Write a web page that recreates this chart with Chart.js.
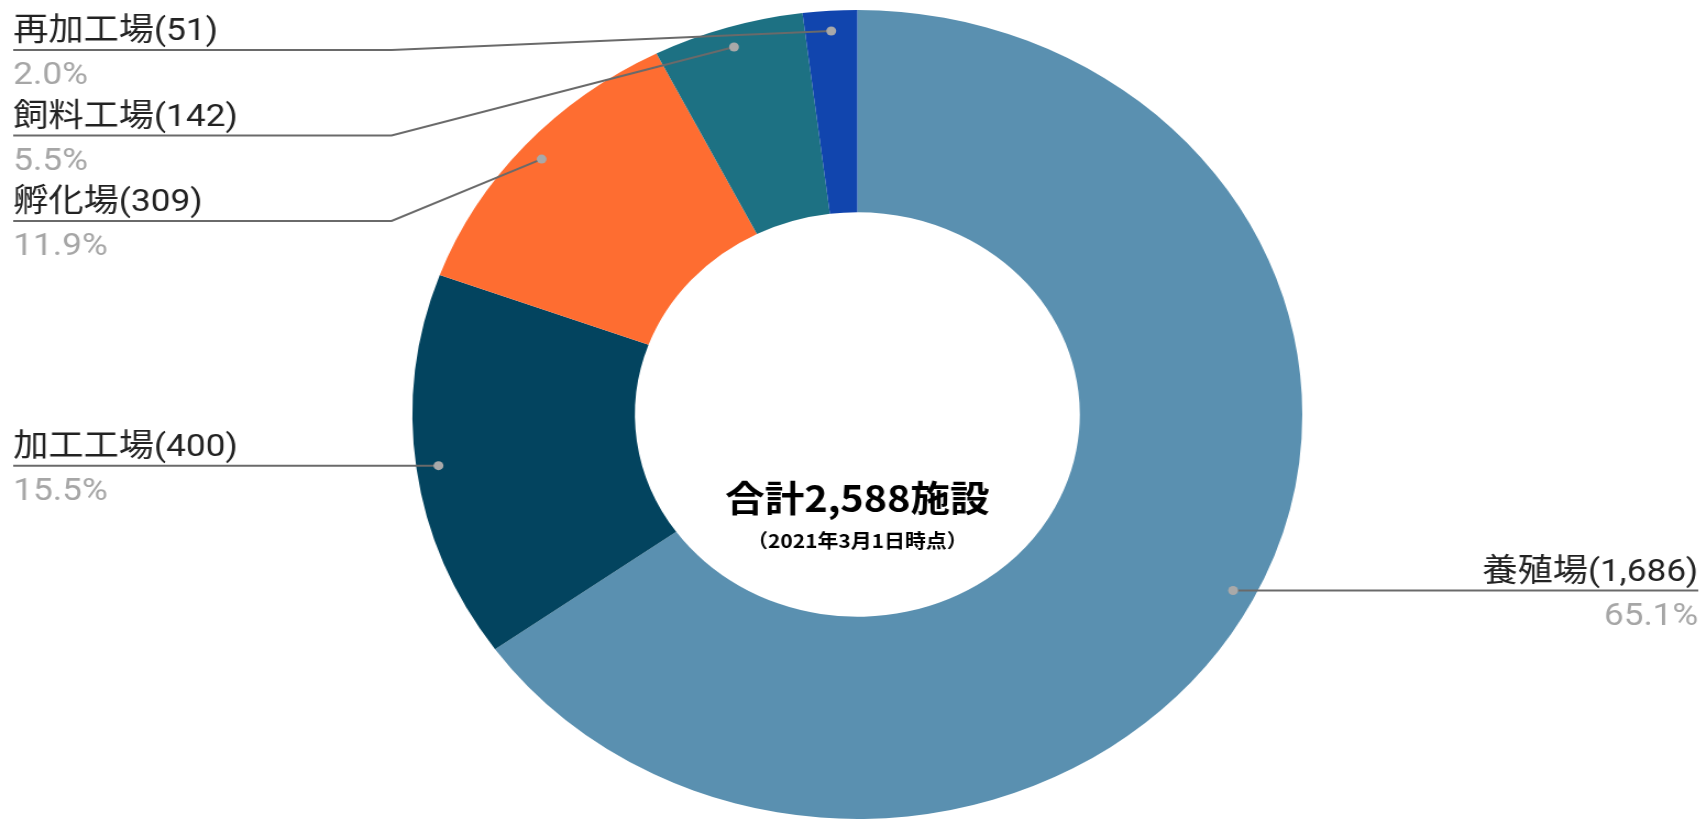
<!DOCTYPE html>
<html lang="ja">
<head>
<meta charset="utf-8">
<title>施設数の内訳</title>
<script src="https://cdn.jsdelivr.net/npm/chart.js@4.4.1/dist/chart.umd.min.js"></script>
<style>
    html, body { margin: 0; padding: 0; background: #fff; overflow: hidden; }
    /* chart is laid out at 1552px and widened to fill the 1707px window */
    #wrap { position: absolute; left: 0; top: 0; width: 1552px; height: 822px; transform: scaleX(1.0999); transform-origin: 0 0; }
</style>
</head>
<body>
<div id="wrap"><canvas id="facility-chart"></canvas></div>
<script>
const categories = ['養殖場', '加工工場', '孵化場', '飼料工場', '再加工場'];
const facilityCounts = [1686, 400, 309, 142, 51];
const asOfNote = '（2021年3月1日時点）';

const sliceColors = ['#5a90b0', '#03445f', '#fe6d31', '#1d7183', '#1145ae'];
const labelFont = "32px Roboto, 'Noto Sans CJK JP', sans-serif";

const total = facilityCounts.reduce((s, v) => s + v, 0);

// leader lines + side labels, google-sheets style
const sliceLabels = {
    id: 'sliceLabels',
    afterDatasetsDraw(chart) {
        const ctx = chart.ctx;
        const arcs = chart.getDatasetMeta(0).data;
        const items = arcs.map((arc, i) => {
            const mid = (arc.startAngle + arc.endAngle) / 2;
            const r = arc.outerRadius * 0.95;
            return {
                i,
                dotX: arc.x + Math.cos(mid) * r,
                dotY: arc.y + Math.sin(mid) * r,
                left: Math.cos(mid) < 0
            };
        });

        const rowGap = 85.5;
        const topRow = 50;
        [true, false].forEach(side => {
            let prev = -Infinity;
            items.filter(it => it.left === side)
                .sort((a, b) => a.dotY - b.dotY)
                .forEach(it => {
                    it.rowY = Math.max(it.dotY, prev + rowGap, topRow);
                    prev = it.rowY;
                });
        });

        ctx.save();
        items.forEach(it => {
            const edgeX = it.left ? 12 : chart.width - 8;
            const elbowX = it.left ? 356 : chart.width - 380;

            ctx.strokeStyle = '#6a6a6a';
            ctx.lineWidth = 2;
            ctx.beginPath();
            ctx.moveTo(it.dotX, it.dotY);
            ctx.lineTo(elbowX, it.rowY);
            ctx.lineTo(edgeX, it.rowY);
            ctx.stroke();

            ctx.fillStyle = '#a9a9a9';
            ctx.beginPath();
            ctx.arc(it.dotX, it.dotY, 4.5, 0, Math.PI * 2);
            ctx.fill();

            const v = facilityCounts[it.i];
            ctx.font = labelFont;
            ctx.textAlign = it.left ? 'left' : 'right';
            ctx.textBaseline = 'alphabetic';
            ctx.fillStyle = '#222';
            ctx.fillText(`${categories[it.i]}(${v.toLocaleString('en-US')})`, edgeX, it.rowY - 10);
            ctx.fillStyle = '#a6a6a6';
            ctx.fillText(`${(v / total * 100).toFixed(1)}%`, edgeX, it.rowY + 34);
        });

        // total in the hole
        const cx = arcs[0].x, cy = arcs[0].y;
        ctx.textAlign = 'center';
        ctx.textBaseline = 'middle';
        ctx.fillStyle = '#000';
        ctx.font = "bold 36px 'Noto Sans CJK JP', sans-serif";
        ctx.fillText(`合計${total.toLocaleString('en-US')}施設`, cx, cy + 84);
        ctx.font = "bold 19px 'Noto Sans CJK JP', sans-serif";
        ctx.fillText(asOfNote, cx, cy + 126);
        ctx.restore();
    }
};

new Chart(document.getElementById('facility-chart'), {
    type: 'doughnut',
    data: {
        labels: categories,
        datasets: [{
            data: facilityCounts,
            backgroundColor: sliceColors,
            borderWidth: 0,
            hoverOffset: 0
        }]
    },
    options: {
        responsive: true,
        maintainAspectRatio: false,
        animation: false,
        cutout: '50%',
        layout: { padding: { top: 10, bottom: 3, left: 7, right: 0 } },
        plugins: { legend: { display: false }, tooltip: { enabled: false } },
        events: []
    },
    plugins: [sliceLabels]
});
</script>
</body>
</html>
